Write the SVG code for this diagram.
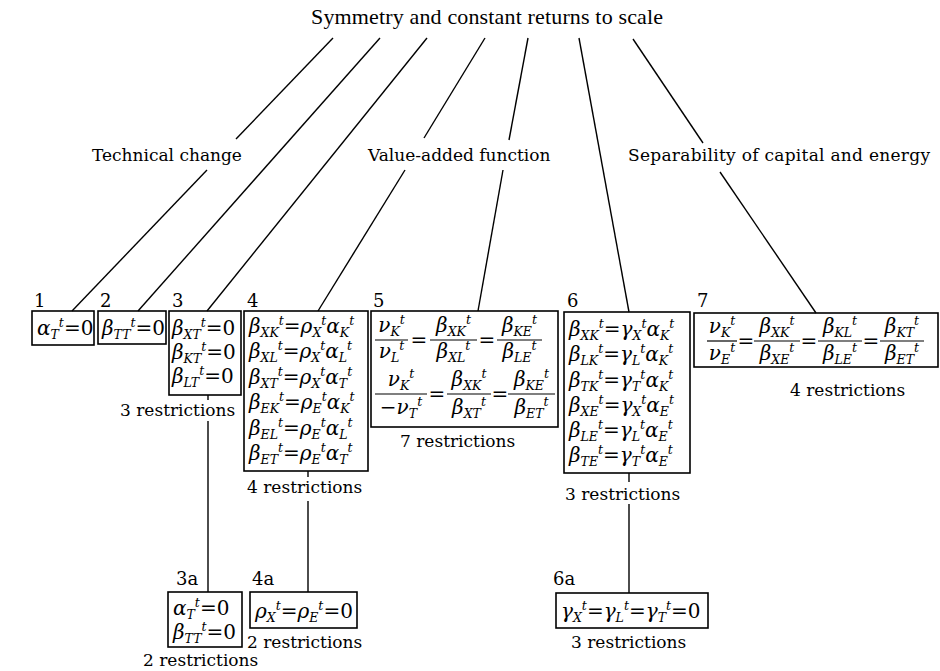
<svg xmlns="http://www.w3.org/2000/svg" width="940" height="671" viewBox="0 0 940 671">
<style>
.t{font-family:"Liberation Serif",serif;font-size:22px;fill:#000}
.l{font-family:"DejaVu Serif",serif;font-size:17px;fill:#000}
.n{font-family:"DejaVu Serif",serif;font-size:18px;fill:#000}
.m{font-family:"DejaVu Serif",serif;font-size:20px;fill:#000}
.c{text-anchor:middle}
.i{font-style:italic}
.s{font-size:12.5px;font-style:italic}
.box{fill:none;stroke:#000;stroke-width:1.6}
.ln{stroke:#000;stroke-width:1.4;fill:none}
.bar{stroke:#000;stroke-width:1.2}
</style>
<rect width="940" height="671" fill="#fff"/>
<g id="title"><text class="t" x="311" y="24" textLength="352">Symmetry and constant returns to scale</text></g>
<g id="label-technical"><text class="l" x="92" y="161">Technical change</text></g>
<g id="label-value"><text class="l" x="368" y="161">Value-added function</text></g>
<g id="label-separability"><text class="l" x="628" y="161" textLength="302">Separability of capital and energy</text></g>
<g id="connectors">
<line class="ln" x1="333" y1="38" x2="236" y2="139"/><line class="ln" x1="207" y1="170" x2="72" y2="311"/>
<line class="ln" x1="380" y1="38" x2="138" y2="311"/>
<line class="ln" x1="427" y1="38" x2="207" y2="311"/>
<line class="ln" x1="485" y1="38" x2="424" y2="138"/><line class="ln" x1="405" y1="170" x2="318" y2="311"/>
<line class="ln" x1="528" y1="38" x2="509" y2="140"/><line class="ln" x1="503" y1="170" x2="478" y2="311"/>
<line class="ln" x1="579" y1="38" x2="629" y2="312"/>
<line class="ln" x1="633" y1="39" x2="703" y2="143"/><line class="ln" x1="720" y1="172" x2="816" y2="313"/>
<line class="ln" x1="208" y1="395" x2="208" y2="400"/><line class="ln" x1="208" y1="421" x2="208" y2="592"/>
<line class="ln" x1="308" y1="471" x2="308" y2="477"/><line class="ln" x1="308" y1="501" x2="308" y2="592"/>
<line class="ln" x1="629" y1="473" x2="629" y2="482"/><line class="ln" x1="629" y1="504" x2="629" y2="593"/>
</g>
<g id="node1">
<text class="n" x="34" y="307">1</text>
<rect class="box" x="32" y="311" width="62" height="34"/>
<text class="m" x="37" y="335"><tspan class="i">α</tspan><tspan class="s" dy="4">T</tspan><tspan class="s" dy="-12">t</tspan><tspan dy="8">=0</tspan></text>
</g>
<g id="node2">
<text class="n" x="100" y="307">2</text>
<rect class="box" x="98" y="311" width="68" height="33"/>
<text class="m" x="102" y="335"><tspan class="i">β</tspan><tspan class="s" dy="4">TT</tspan><tspan class="s" dy="-12">t</tspan><tspan dy="8">=0</tspan></text>
</g>
<g id="node3">
<text class="n" x="172" y="307">3</text>
<rect class="box" x="169" y="311" width="72" height="84"/>
<text class="m" x="172" y="335"><tspan class="i">β</tspan><tspan class="s" dy="4">XT</tspan><tspan class="s" dy="-12">t</tspan><tspan dy="8">=0</tspan></text>
<text class="m" x="172" y="359"><tspan class="i">β</tspan><tspan class="s" dy="4">KT</tspan><tspan class="s" dy="-12">t</tspan><tspan dy="8">=0</tspan></text>
<text class="m" x="172" y="383"><tspan class="i">β</tspan><tspan class="s" dy="4">LT</tspan><tspan class="s" dy="-12">t</tspan><tspan dy="8">=0</tspan></text>
<text class="l" x="120" y="416">3 restrictions</text>
</g>
<g id="node4">
<text class="n" x="247" y="307">4</text>
<rect class="box" x="244" y="311" width="124" height="160"/>
<text class="m" x="249" y="333"><tspan class="i">β</tspan><tspan class="s" dy="4">XK</tspan><tspan class="s" dy="-12">t</tspan><tspan dy="8">=</tspan><tspan class="i">ρ</tspan><tspan class="s" dy="4">X</tspan><tspan class="s" dy="-12">t</tspan><tspan class="i" dy="8">α</tspan><tspan class="s" dy="4">K</tspan><tspan class="s" dy="-12">t</tspan></text>
<text class="m" x="249" y="358"><tspan class="i">β</tspan><tspan class="s" dy="4">XL</tspan><tspan class="s" dy="-12">t</tspan><tspan dy="8">=</tspan><tspan class="i">ρ</tspan><tspan class="s" dy="4">X</tspan><tspan class="s" dy="-12">t</tspan><tspan class="i" dy="8">α</tspan><tspan class="s" dy="4">L</tspan><tspan class="s" dy="-12">t</tspan></text>
<text class="m" x="249" y="384"><tspan class="i">β</tspan><tspan class="s" dy="4">XT</tspan><tspan class="s" dy="-12">t</tspan><tspan dy="8">=</tspan><tspan class="i">ρ</tspan><tspan class="s" dy="4">X</tspan><tspan class="s" dy="-12">t</tspan><tspan class="i" dy="8">α</tspan><tspan class="s" dy="4">T</tspan><tspan class="s" dy="-12">t</tspan></text>
<text class="m" x="249" y="409"><tspan class="i">β</tspan><tspan class="s" dy="4">EK</tspan><tspan class="s" dy="-12">t</tspan><tspan dy="8">=</tspan><tspan class="i">ρ</tspan><tspan class="s" dy="4">E</tspan><tspan class="s" dy="-12">t</tspan><tspan class="i" dy="8">α</tspan><tspan class="s" dy="4">K</tspan><tspan class="s" dy="-12">t</tspan></text>
<text class="m" x="249" y="435"><tspan class="i">β</tspan><tspan class="s" dy="4">EL</tspan><tspan class="s" dy="-12">t</tspan><tspan dy="8">=</tspan><tspan class="i">ρ</tspan><tspan class="s" dy="4">E</tspan><tspan class="s" dy="-12">t</tspan><tspan class="i" dy="8">α</tspan><tspan class="s" dy="4">L</tspan><tspan class="s" dy="-12">t</tspan></text>
<text class="m" x="249" y="460"><tspan class="i">β</tspan><tspan class="s" dy="4">ET</tspan><tspan class="s" dy="-12">t</tspan><tspan dy="8">=</tspan><tspan class="i">ρ</tspan><tspan class="s" dy="4">E</tspan><tspan class="s" dy="-12">t</tspan><tspan class="i" dy="8">α</tspan><tspan class="s" dy="4">T</tspan><tspan class="s" dy="-12">t</tspan></text>
<text class="l" x="247" y="493">4 restrictions</text>
</g>
<g id="node5">
<text class="n" x="373" y="307">5</text>
<rect class="box" x="371" y="311" width="187" height="116"/>
<text class="m c" x="391.5" y="332"><tspan class="i">ν</tspan><tspan class="s" dy="4">K</tspan><tspan class="s" dy="-12">t</tspan></text>
<line class="bar" x1="375" y1="340" x2="408" y2="340"/>
<text class="m c" x="391.5" y="358"><tspan class="i">ν</tspan><tspan class="s" dy="4">L</tspan><tspan class="s" dy="-12">t</tspan></text>
<text class="m c" x="419" y="347">=</text>
<text class="m c" x="453.5" y="332"><tspan class="i">β</tspan><tspan class="s" dy="4">XK</tspan><tspan class="s" dy="-12">t</tspan></text>
<line class="bar" x1="430" y1="340" x2="477" y2="340"/>
<text class="m c" x="453.5" y="358"><tspan class="i">β</tspan><tspan class="s" dy="4">XL</tspan><tspan class="s" dy="-12">t</tspan></text>
<text class="m c" x="487" y="347">=</text>
<text class="m c" x="519.5" y="332"><tspan class="i">β</tspan><tspan class="s" dy="4">KE</tspan><tspan class="s" dy="-12">t</tspan></text>
<line class="bar" x1="497" y1="340" x2="542" y2="340"/>
<text class="m c" x="519.5" y="358"><tspan class="i">β</tspan><tspan class="s" dy="4">LE</tspan><tspan class="s" dy="-12">t</tspan></text>
<text class="m c" x="401" y="386"><tspan class="i">ν</tspan><tspan class="s" dy="4">K</tspan><tspan class="s" dy="-12">t</tspan></text>
<line class="bar" x1="375" y1="394" x2="427" y2="394"/>
<text class="m c" x="401" y="414"><tspan>−</tspan><tspan class="i">ν</tspan><tspan class="s" dy="4">T</tspan><tspan class="s" dy="-12">t</tspan></text>
<text class="m c" x="437" y="401">=</text>
<text class="m c" x="469" y="386"><tspan class="i">β</tspan><tspan class="s" dy="4">XK</tspan><tspan class="s" dy="-12">t</tspan></text>
<line class="bar" x1="447" y1="394" x2="491" y2="394"/>
<text class="m c" x="469" y="414"><tspan class="i">β</tspan><tspan class="s" dy="4">XT</tspan><tspan class="s" dy="-12">t</tspan></text>
<text class="m c" x="500" y="401">=</text>
<text class="m c" x="531.5" y="386"><tspan class="i">β</tspan><tspan class="s" dy="4">KE</tspan><tspan class="s" dy="-12">t</tspan></text>
<line class="bar" x1="508" y1="394" x2="555" y2="394"/>
<text class="m c" x="531.5" y="414"><tspan class="i">β</tspan><tspan class="s" dy="4">ET</tspan><tspan class="s" dy="-12">t</tspan></text>
<text class="l" x="400" y="447">7 restrictions</text>
</g>
<g id="node6">
<text class="n" x="567" y="307">6</text>
<rect class="box" x="564" y="312" width="126" height="161"/>
<text class="m" x="569" y="336"><tspan class="i">β</tspan><tspan class="s" dy="4">XK</tspan><tspan class="s" dy="-12">t</tspan><tspan dy="8">=</tspan><tspan class="i">γ</tspan><tspan class="s" dy="4">X</tspan><tspan class="s" dy="-12">t</tspan><tspan class="i" dy="8">α</tspan><tspan class="s" dy="4">K</tspan><tspan class="s" dy="-12">t</tspan></text>
<text class="m" x="569" y="361"><tspan class="i">β</tspan><tspan class="s" dy="4">LK</tspan><tspan class="s" dy="-12">t</tspan><tspan dy="8">=</tspan><tspan class="i">γ</tspan><tspan class="s" dy="4">L</tspan><tspan class="s" dy="-12">t</tspan><tspan class="i" dy="8">α</tspan><tspan class="s" dy="4">K</tspan><tspan class="s" dy="-12">t</tspan></text>
<text class="m" x="569" y="387"><tspan class="i">β</tspan><tspan class="s" dy="4">TK</tspan><tspan class="s" dy="-12">t</tspan><tspan dy="8">=</tspan><tspan class="i">γ</tspan><tspan class="s" dy="4">T</tspan><tspan class="s" dy="-12">t</tspan><tspan class="i" dy="8">α</tspan><tspan class="s" dy="4">K</tspan><tspan class="s" dy="-12">t</tspan></text>
<text class="m" x="569" y="412"><tspan class="i">β</tspan><tspan class="s" dy="4">XE</tspan><tspan class="s" dy="-12">t</tspan><tspan dy="8">=</tspan><tspan class="i">γ</tspan><tspan class="s" dy="4">X</tspan><tspan class="s" dy="-12">t</tspan><tspan class="i" dy="8">α</tspan><tspan class="s" dy="4">E</tspan><tspan class="s" dy="-12">t</tspan></text>
<text class="m" x="569" y="437"><tspan class="i">β</tspan><tspan class="s" dy="4">LE</tspan><tspan class="s" dy="-12">t</tspan><tspan dy="8">=</tspan><tspan class="i">γ</tspan><tspan class="s" dy="4">L</tspan><tspan class="s" dy="-12">t</tspan><tspan class="i" dy="8">α</tspan><tspan class="s" dy="4">E</tspan><tspan class="s" dy="-12">t</tspan></text>
<text class="m" x="569" y="462"><tspan class="i">β</tspan><tspan class="s" dy="4">TE</tspan><tspan class="s" dy="-12">t</tspan><tspan dy="8">=</tspan><tspan class="i">γ</tspan><tspan class="s" dy="4">T</tspan><tspan class="s" dy="-12">t</tspan><tspan class="i" dy="8">α</tspan><tspan class="s" dy="4">E</tspan><tspan class="s" dy="-12">t</tspan></text>
<text class="l" x="565" y="500">3 restrictions</text>
</g>
<g id="node7">
<text class="n" x="697" y="307">7</text>
<rect class="box" x="694" y="313" width="244" height="54"/>
<text class="m c" x="722" y="333"><tspan class="i">ν</tspan><tspan class="s" dy="4">K</tspan><tspan class="s" dy="-12">t</tspan></text>
<line class="bar" x1="707" y1="341" x2="737" y2="341"/>
<text class="m c" x="722" y="360"><tspan class="i">ν</tspan><tspan class="s" dy="4">E</tspan><tspan class="s" dy="-12">t</tspan></text>
<text class="m c" x="746" y="348">=</text>
<text class="m c" x="777" y="333"><tspan class="i">β</tspan><tspan class="s" dy="4">XK</tspan><tspan class="s" dy="-12">t</tspan></text>
<line class="bar" x1="754" y1="341" x2="800" y2="341"/>
<text class="m c" x="777" y="360"><tspan class="i">β</tspan><tspan class="s" dy="4">XE</tspan><tspan class="s" dy="-12">t</tspan></text>
<text class="m c" x="809" y="348">=</text>
<text class="m c" x="840" y="333"><tspan class="i">β</tspan><tspan class="s" dy="4">KL</tspan><tspan class="s" dy="-12">t</tspan></text>
<line class="bar" x1="818" y1="341" x2="862" y2="341"/>
<text class="m c" x="840" y="360"><tspan class="i">β</tspan><tspan class="s" dy="4">LE</tspan><tspan class="s" dy="-12">t</tspan></text>
<text class="m c" x="871" y="348">=</text>
<text class="m c" x="902" y="333"><tspan class="i">β</tspan><tspan class="s" dy="4">KT</tspan><tspan class="s" dy="-12">t</tspan></text>
<line class="bar" x1="880" y1="341" x2="924" y2="341"/>
<text class="m c" x="902" y="360"><tspan class="i">β</tspan><tspan class="s" dy="4">ET</tspan><tspan class="s" dy="-12">t</tspan></text>
<text class="l" x="790" y="396">4 restrictions</text>
</g>
<g id="node3a">
<text class="n" x="176" y="585">3a</text>
<rect class="box" x="168" y="592" width="74" height="55"/>
<text class="m" x="173" y="615"><tspan class="i">α</tspan><tspan class="s" dy="4">T</tspan><tspan class="s" dy="-12">t</tspan><tspan dy="8">=0</tspan></text>
<text class="m" x="173" y="639"><tspan class="i">β</tspan><tspan class="s" dy="4">TT</tspan><tspan class="s" dy="-12">t</tspan><tspan dy="8">=0</tspan></text>
<text class="l" x="143" y="666">2 restrictions</text>
</g>
<g id="node4a">
<text class="n" x="252" y="585">4a</text>
<rect class="box" x="250" y="592" width="107" height="36"/>
<text class="m" x="255" y="618"><tspan class="i">ρ</tspan><tspan class="s" dy="4">X</tspan><tspan class="s" dy="-12">t</tspan><tspan dy="8">=</tspan><tspan class="i">ρ</tspan><tspan class="s" dy="4">E</tspan><tspan class="s" dy="-12">t</tspan><tspan dy="8">=0</tspan></text>
<text class="l" x="247" y="648">2 restrictions</text>
</g>
<g id="node6a">
<text class="n" x="553" y="585">6a</text>
<rect class="box" x="556" y="593" width="152" height="35"/>
<text class="m" x="561" y="618"><tspan class="i">γ</tspan><tspan class="s" dy="4">X</tspan><tspan class="s" dy="-12">t</tspan><tspan dy="8">=</tspan><tspan class="i">γ</tspan><tspan class="s" dy="4">L</tspan><tspan class="s" dy="-12">t</tspan><tspan dy="8">=</tspan><tspan class="i">γ</tspan><tspan class="s" dy="4">T</tspan><tspan class="s" dy="-12">t</tspan><tspan dy="8">=0</tspan></text>
<text class="l" x="571" y="648">3 restrictions</text>
</g>
</svg>
